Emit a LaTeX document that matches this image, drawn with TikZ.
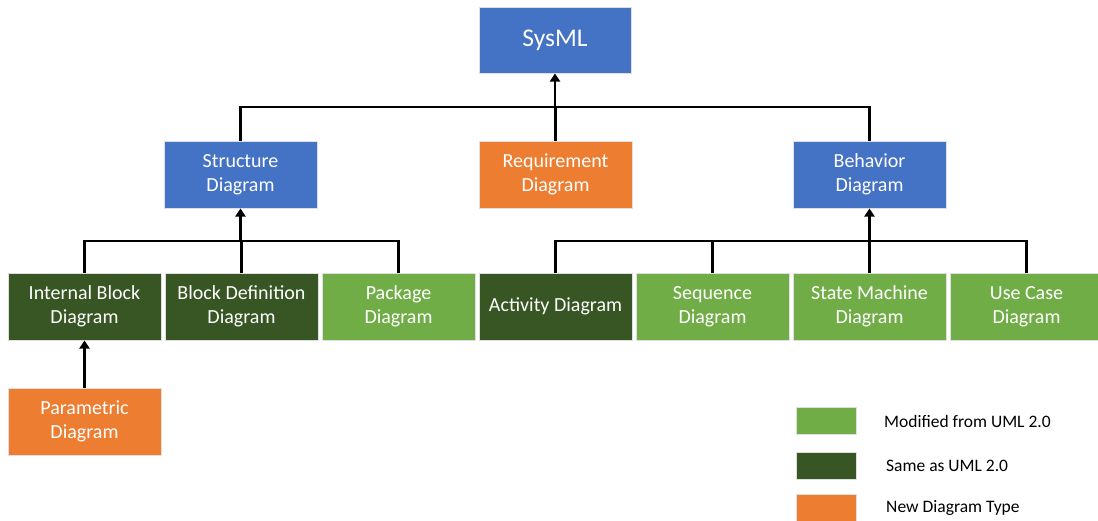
\documentclass[tikz,border=0pt]{standalone}
\usepackage{fontspec}
\setmainfont{Carlito}
\usetikzlibrary{arrows.meta}
\definecolor{sblue}{HTML}{4472C4}
\definecolor{sorange}{HTML}{ED7D31}
\definecolor{lgreen}{HTML}{70AD47}
\definecolor{dgreen}{HTML}{375623}
\tikzset{
  box/.style={draw=gray!25, line width=1pt, minimum width=153pt, minimum height=67pt, inner sep=0pt, outer sep=0pt, align=center, text=white, font=\fontsize{20}{24.5}\selectfont},
  bluebox/.style={box, fill=sblue},
  orbox/.style={box, fill=sorange},
  lgbox/.style={box, fill=lgreen},
  dgbox/.style={box, fill=dgreen},
  conn/.style={line width=2.8pt, black},
  arr/.style={conn, -{Triangle[length=8pt,width=10pt]}, shorten >=0.5pt},
  legbox/.style={draw=gray!25, line width=1pt, minimum width=60pt, minimum height=27pt, inner sep=0pt},
  legtext/.style={anchor=west, inner sep=0pt, font=\fontsize{17.5}{20}\selectfont}
}
\begin{document}
\begin{tikzpicture}[x=1pt,y=-1pt]
\clip (0,0) rectangle (1098,520);
\fill[white] (0,0) rectangle (1098,520);
% nodes
\node[bluebox, minimum width=152pt, minimum height=66pt, font=\fontsize{25.5}{28}\selectfont] (sysml) at (555,40) {SysML};
\node[bluebox] (struct) at (240.5,174.5) {Structure\\Diagram};
\node[orbox] (req) at (555.5,174.5) {Requirement\\Diagram};
\node[bluebox] (behav) at (869.5,174.5) {Behavior\\Diagram};
\node[dgbox] (ibd) at (84.5,306.5) {Internal Block\\Diagram};
\node[dgbox] (bdd) at (241.5,306.5) {Block Definition\\Diagram};
\node[lgbox] (pkg) at (398.5,306.5) {Package\\Diagram};
\node[dgbox] (act) at (555.5,306.5) {Activity Diagram};
\node[lgbox] (seq) at (712.5,306.5) {Sequence\\Diagram};
\node[lgbox] (stm) at (869.5,306.5) {State Machine\\Diagram};
\node[lgbox] (uc) at (1026.5,306.5) {Use Case\\Diagram};
\node[orbox] (par) at (84.5,421.5) {Parametric\\Diagram};
% legend
\node[legbox, fill=lgreen] (l1) at (826.5,420.5) {};
\node[legbox, fill=dgreen] (l2) at (826.5,466) {};
\node[legbox, fill=sorange] (l3) at (826.5,508) {};
\node[legtext] (t1) at (884,421) {Modified from UML 2.0};
\node[legtext] (t2) at (886,466) {Same as UML 2.0};
\node[legtext] (t3) at (886,508) {New Diagram Type};
% top level connectors
\coordinate (b1) at (555,107);
\draw[conn] (struct.north) |- (b1);
\draw[conn] (behav.north) |- (b1);
\draw[conn] (req.north) -- (req.north |- b1);
\draw[arr] (b1) -- (sysml.south);
% structure connectors
\coordinate (b2) at (240.5,241);
\draw[conn] (ibd.north) |- (b2);
\draw[conn] (pkg.north) |- (b2);
\draw[conn] (bdd.north) -- (bdd.north |- b2);
\draw[arr] (b2) -- (struct.south);
% behavior connectors
\coordinate (b3) at (869.5,241);
\draw[conn] (act.north) |- (b3);
\draw[conn] (uc.north) |- (b3);
\draw[conn] (seq.north) -- (seq.north |- b3);
\draw[conn] (stm.north) -- (b3);
\draw[arr] (b3) -- (behav.south);
% parametric
\draw[arr] (par.north) -- (ibd.south);
\end{tikzpicture}
\end{document}
